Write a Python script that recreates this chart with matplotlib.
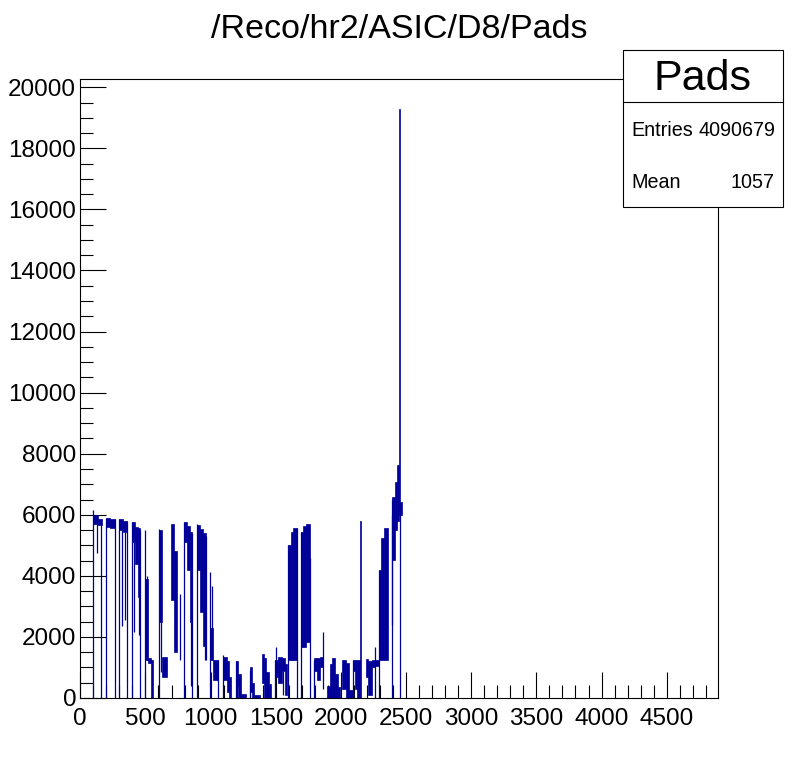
import matplotlib
matplotlib.use("Agg")
import matplotlib.pyplot as plt
from matplotlib.patches import Rectangle
from matplotlib.lines import Line2D
import numpy as np

plt.rcParams['font.family'] = ['Liberation Sans', 'DejaVu Sans']

# ---- data ----
title = "/Reco/hr2/ASIC/D8/Pads"
stat_name = "Pads"
entries = 4090679
mean = 1057
x_max = 4896
y_max = 20270

# envelope of bin contents per group of bins: start, end, upper, lower
seg_start = [97, 135, 195, 230, 297, 330, 399, 420, 440, 499, 520, 540, 601, 630,
             698, 720, 795, 820, 840, 897, 920, 945, 997, 1018, 1095, 1125, 1140,
             1197, 1210, 1230, 1299, 1317, 1335, 1394, 1410, 1427, 1445, 1496, 1520,
             1550, 1568, 1593, 1615, 1635, 1690, 1710, 1735, 1792, 1815, 1840, 1894,
             1915, 1935, 1955, 1975, 2007, 2040, 2059, 2092, 2110, 2125, 2145, 2194,
             2210, 2235, 2263, 2289, 2310, 2330, 2391, 2414, 2433, 2444, 2456]
seg_end = [135, 166, 230, 264, 330, 360, 420, 440, 456, 520, 540, 558, 630, 665,
           720, 742, 820, 840, 857, 920, 945, 966, 1018, 1056, 1125, 1140, 1158,
           1210, 1230, 1273, 1317, 1335, 1376, 1410, 1427, 1445, 1460, 1520, 1550,
           1568, 1590, 1615, 1635, 1664, 1710, 1735, 1760, 1815, 1840, 1861, 1915,
           1935, 1955, 1975, 1992, 2040, 2059, 2092, 2110, 2125, 2143, 2155, 2210,
           2235, 2258, 2289, 2310, 2330, 2360, 2414, 2433, 2444, 2456, 2466]
seg_hi = [6000, 5850, 5900, 5850, 5860, 5800, 5760, 5600, 5560, 3900, 1300, 1250, 5500, 1330,
          5700, 4800, 5760, 5620, 5450, 5650, 5550, 5400, 2300, 1250, 1330, 1200, 700,
          1200, 800, 120, 1000, 500, 110, 1450, 1300, 850, 450, 1250, 1330,
          1300, 1100, 5000, 5450, 5560, 5440, 5640, 5700, 1300, 1300, 1350, 380,
          1100, 1300, 800, 350, 1240, 1150, 250, 1240, 1240, 1240, 5800, 1280,
          1200, 1240, 1240, 4190, 5250, 5560, 6570, 7080, 7630, 19300, 6430]
seg_lo = [5700, 5650, 5600, 5560, 5500, 5450, 5100, 4400, 3300, 1250, 1150, 0, 2500, 700,
          3200, 1500, 5100, 4200, 2500, 4200, 2800, 1700, 1250, 600, 600, 200, 0,
          400, 0, 0, 200, 0, 0, 500, 0, 0, 0, 700, 500,
          900, 100, 1250, 1250, 1250, 1670, 1670, 1850, 900, 600, 1000, 0,
          0, 0, 0, 0, 300, 0, 0, 900, 300, 0, 0, 700,
          100, 1000, 1050, 1250, 1250, 1250, 4520, 5500, 5800, 6000, 6000]

# single bins standing out of the envelope (dips / dead bins / spikes)
line_x = [97, 130, 161, 195, 264, 297, 320, 343, 360, 399, 410, 448, 456, 499, 510,
          601, 620, 762, 795, 850, 857, 897, 957, 966, 997, 1010, 1056, 1095, 1197,
          1299, 1496, 1505, 1557, 1593, 1664, 1690, 1760, 1792, 1861, 2092, 2263,
          2293, 2391, 2394, 2456]
line_lo = [0, 4760, 0, 0, 0, 0, 2360, 2550, 0, 0, 2170, 2060, 0, 0, 1250,
           0, 850, 1250, 0, 400, 0, 0, 1250, 1250, 0, 1250, 0, 0, 0,
           0, 0, 1240, 100, 0, 0, 0, 0, 0, 300, 0, 0,
           0, 0, 2390, 0]
line_hi = [6150, 5700, 5800, 5900, 5850, 5860, 5500, 5450, 5800, 5760, 5100, 3300, 5500, 5500, 4000,
           5530, 2500, 3400, 5760, 2500, 5400, 5700, 1700, 5300, 4130, 3670, 1250, 1400, 1200,
           920, 1250, 1680, 900, 5000, 5560, 5440, 4600, 1250, 2160, 1240, 1680,
           4190, 6500, 6000, 6400]

x_major = list(range(0, 4501, 500))
y_major = list(range(0, 20001, 2000))

# ---- drawing ----
W, H = 798, 776
fig = plt.figure(figsize=(W / 100, H / 100), dpi=100)
L, R, T, B = 80.3, 718.3, 79, 698
ax = fig.add_axes([L / W, 1 - B / H, (R - L) / W, (B - T) / H])

col = "#000099"
s = np.array(seg_start, float)
e = np.array(seg_end, float)
hi = np.array(seg_hi, float)
lo = np.array(seg_lo, float)
ax.bar(s, hi - lo, width=e - s, bottom=lo, align="edge", color=col,
       edgecolor=col, linewidth=0.5, zorder=2)
ax.vlines(line_x, line_lo, line_hi, color=col, linewidth=0.9, zorder=2)

ax.set_xlim(0, x_max)
ax.set_ylim(0, y_max)
ax.set_xticks(x_major)
ax.set_xticklabels([str(v) for v in x_major])
ax.set_xticks(np.arange(0, x_max, 100), minor=True)
ax.set_yticks(y_major)
ax.set_yticklabels([str(v) for v in y_major])
ax.set_yticks(np.arange(0, 20001, 500), minor=True)
ax.tick_params(axis="both", which="major", direction="in", length=19, width=0.8,
               labelsize=17.5, colors="black")
ax.tick_params(axis="both", which="minor", direction="in", length=9.5, width=0.8)
ax.tick_params(axis="x", which="major", pad=7)
ax.tick_params(axis="y", which="major", pad=3)
for sp in ax.spines.values():
    sp.set_linewidth(0.8)

# title
fig.text(399 / W, 1 - 29 / H, title, ha="center", va="center", fontsize=24.5)

# stats box
bx0, bx1, by0, by1, bdiv = 622.7, 782.7, 50, 206.7, 102.3
fig.add_artist(Rectangle((bx0 / W, 1 - by1 / H), (bx1 - bx0) / W, (by1 - by0) / H,
                         transform=fig.transFigure, facecolor="white",
                         edgecolor="black", linewidth=0.8, zorder=5))
fig.add_artist(Line2D([bx0 / W, bx1 / W], [1 - bdiv / H, 1 - bdiv / H],
                      transform=fig.transFigure, color="black", linewidth=0.8, zorder=6))
fig.text((bx0 + bx1) / 2 / W, 1 - 79 / H, stat_name, ha="center", va="center",
         fontsize=31, zorder=7)
fig.text(631 / W, 1 - 130 / H, "Entries", ha="left", va="center", fontsize=14.2, zorder=7)
fig.text(775 / W, 1 - 130 / H, str(entries), ha="right", va="center", fontsize=14.2, zorder=7)
fig.text(631 / W, 1 - 182 / H, "Mean", ha="left", va="center", fontsize=14.2, zorder=7)
fig.text(775 / W, 1 - 182 / H, str(mean), ha="right", va="center", fontsize=14.2, zorder=7)

fig.savefig("out.png", dpi=100, facecolor="white")
